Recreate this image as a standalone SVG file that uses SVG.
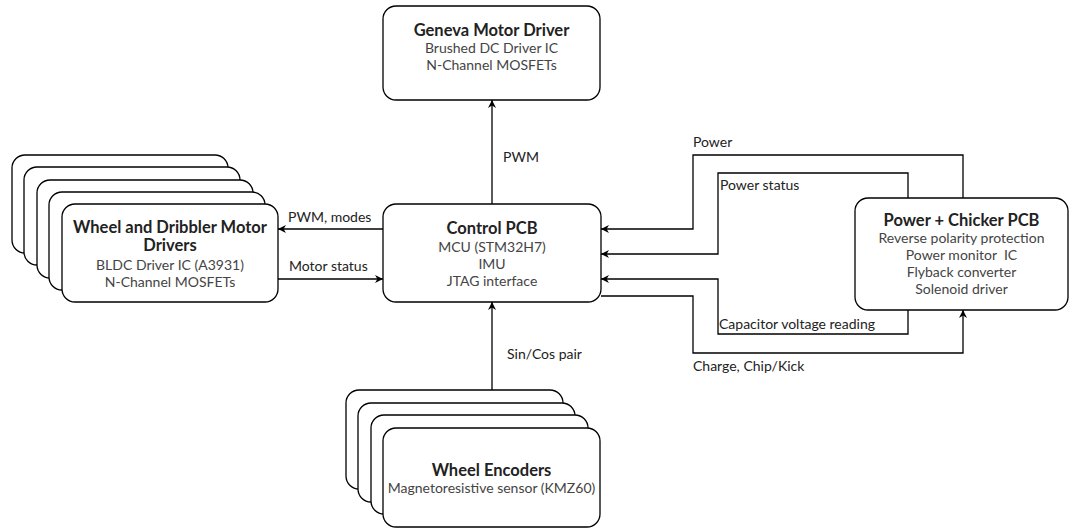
<svg xmlns="http://www.w3.org/2000/svg" width="1070" height="529" viewBox="0 0 1070 529">
<style>
.box{fill:#fff;stroke:#000;stroke-width:1.3}
.t{font-family:Lato,"Noto Sans",sans-serif;font-size:16.5px;font-weight:bold;fill:#222;text-anchor:middle}
.s{font-family:Lato,"Noto Sans",sans-serif;font-size:14px;fill:#444;text-anchor:middle}
.l{font-family:Lato,"Noto Sans",sans-serif;font-size:14px;fill:#222}
.c{fill:none;stroke:#000;stroke-width:1.3}
</style>
<defs>
<marker id="a" viewBox="0 0 10 10" refX="10" refY="5" markerWidth="8" markerHeight="8" markerUnits="userSpaceOnUse" orient="auto">
<path d="M0,0 L10,5 L0,10 L3,5 Z" fill="#000"/>
</marker>
</defs>
<g id="connectors">
<path class="c" d="M492,204 V100" marker-end="url(#a)"/>
<path class="c" d="M383,229 H278" marker-end="url(#a)"/>
<path class="c" d="M278,279 H383" marker-end="url(#a)"/>
<path class="c" d="M492,428 V302" marker-end="url(#a)"/>
<path class="c" d="M963,198 V155 H693 V229 H601" marker-end="url(#a)"/>
<path class="c" d="M908,198 V173 H718 V254 H601" marker-end="url(#a)"/>
<path class="c" d="M908,310 V334 H718 V279 H601" marker-end="url(#a)"/>
<path class="c" d="M601,296 H693 V353 H963 V310" marker-end="url(#a)"/>
<text class="l" x="503" y="162">PWM</text>
<text class="l" x="288" y="222">PWM, modes</text>
<text class="l" x="289" y="271">Motor status</text>
<text class="l" x="507" y="359">Sin/Cos pair</text>
<text class="l" x="693" y="147">Power</text>
<text class="l" x="720" y="190">Power status</text>
<text class="l" x="719" y="329">Capacitor voltage reading</text>
<text class="l" x="693" y="371">Charge, Chip/Kick</text>
</g>
<g id="geneva">
<rect class="box" x="383" y="6" width="217" height="94" rx="13"/>
<text class="t" x="491.5" y="36">Geneva Motor Driver</text>
<text class="s" x="491.5" y="53">Brushed DC Driver IC</text>
<text class="s" x="491.5" y="70">N-Channel MOSFETs</text>
</g>
<g id="wheel-drivers">
<rect class="box" x="12" y="155" width="216" height="98" rx="13"/>
<rect class="box" x="24" y="167" width="216" height="98" rx="13"/>
<rect class="box" x="37" y="180" width="216" height="98" rx="13"/>
<rect class="box" x="49" y="192" width="216" height="98" rx="13"/>
<rect class="box" x="62" y="204" width="216" height="98" rx="13"/>
<text class="t" x="170" y="233">Wheel and Dribbler Motor</text>
<text class="t" x="170" y="251">Drivers</text>
<text class="s" x="170" y="270">BLDC Driver IC (A3931)</text>
<text class="s" x="170" y="287">N-Channel MOSFETs</text>
</g>
<g id="control">
<rect class="box" x="383" y="204" width="218" height="98" rx="13"/>
<text class="t" x="492" y="234">Control PCB</text>
<text class="s" x="492" y="252">MCU (STM32H7)</text>
<text class="s" x="492" y="269">IMU</text>
<text class="s" x="492" y="286">JTAG interface</text>
</g>
<g id="power-chicker">
<rect class="box" x="855" y="198" width="213" height="112" rx="13"/>
<text class="t" x="961.5" y="226">Power + Chicker PCB</text>
<text class="s" x="961.5" y="243">Reverse polarity protection</text>
<text class="s" x="961.5" y="260">Power monitor&#160; IC</text>
<text class="s" x="961.5" y="277">Flyback converter</text>
<text class="s" x="961.5" y="294">Solenoid driver</text>
</g>
<g id="encoders">
<rect class="box" x="346" y="390" width="217" height="99" rx="13"/>
<rect class="box" x="358" y="403" width="217" height="99" rx="13"/>
<rect class="box" x="371" y="415" width="217" height="99" rx="13"/>
<rect class="box" x="383" y="428" width="217" height="99" rx="13"/>
<text class="t" x="491.5" y="476">Wheel Encoders</text>
<text class="s" x="491.5" y="493">Magnetoresistive sensor (KMZ60)</text>
</g>
</svg>
